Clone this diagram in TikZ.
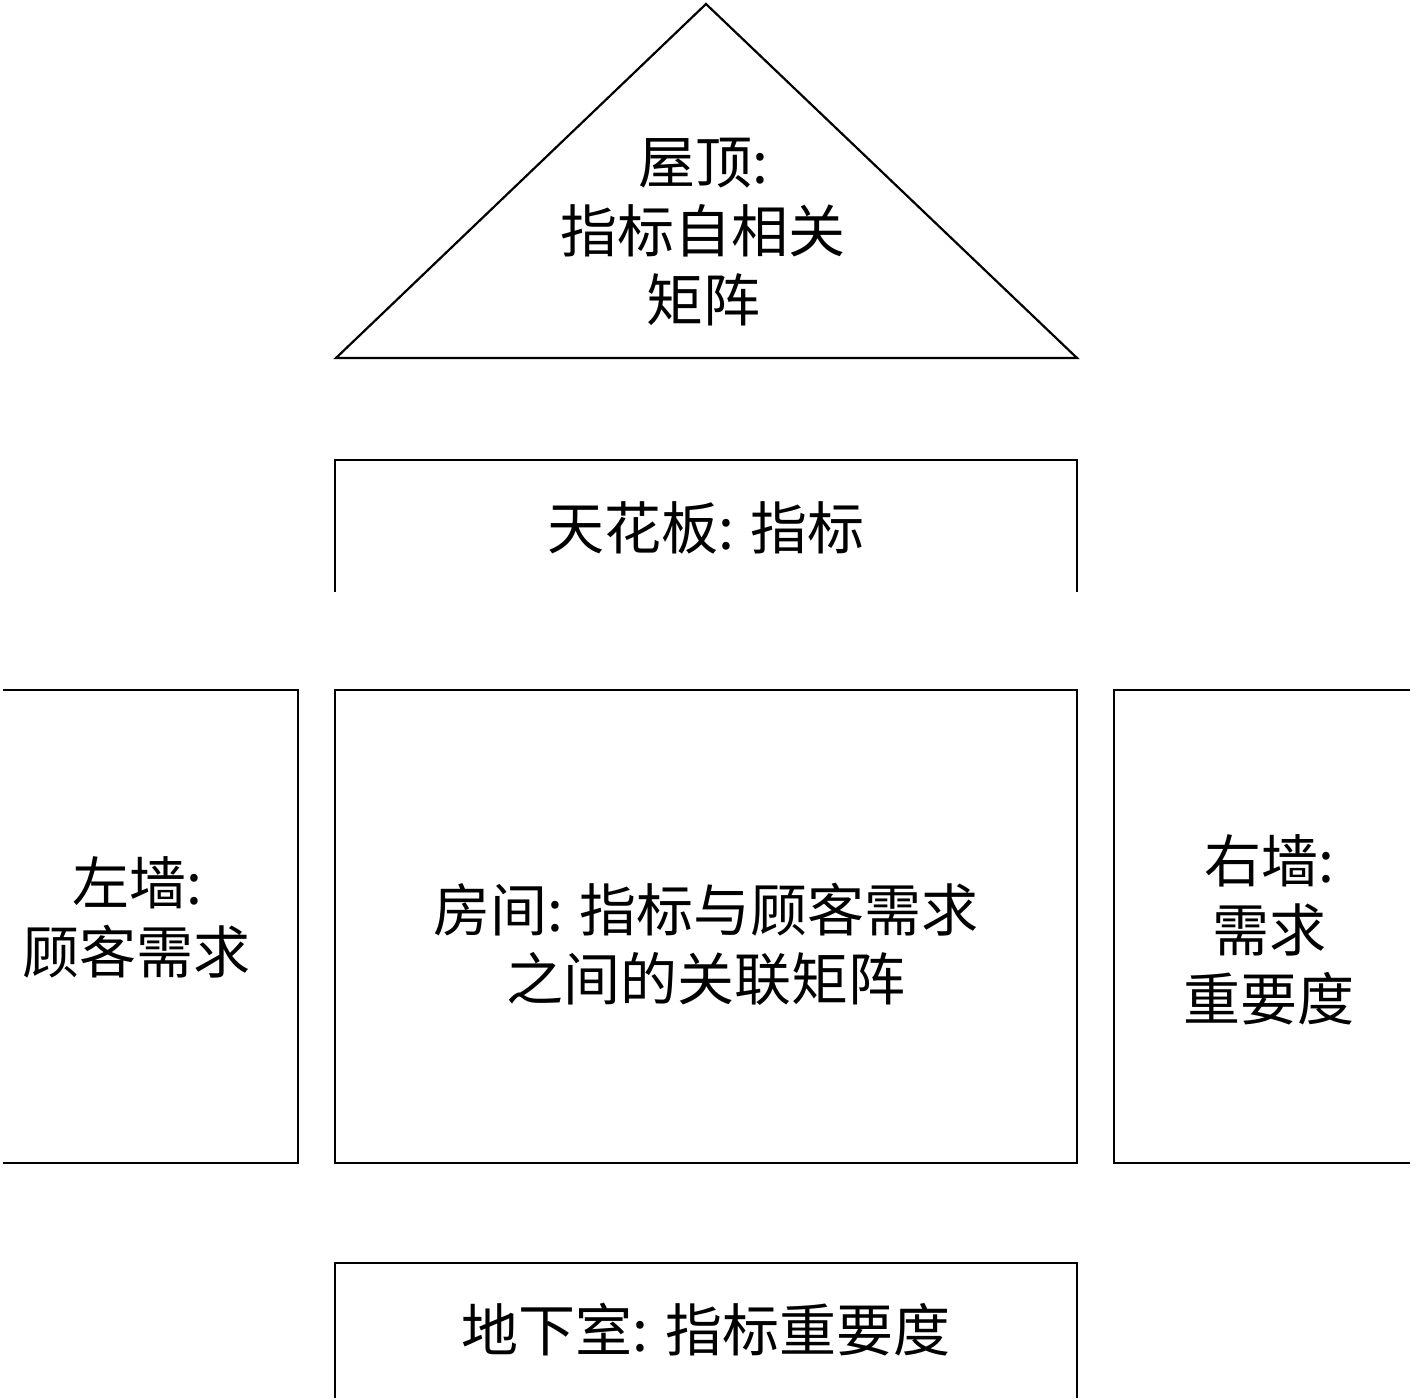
\documentclass[tikz,border=0pt]{standalone}
\usepackage{fontspec}
\setmainfont{Noto Sans CJK SC}
\begin{document}
\begin{tikzpicture}[x=1pt,y=-1pt,
  wall/.style={line width=2.2pt,line cap=rect},
  lbl/.style={align=center,font=\fontsize{57}{69}\selectfont,inner sep=0pt}]
\useasboundingbox (0,0) rectangle (1417,1400);
% coordinates
\coordinate (apex) at (706,4);
\coordinate (rl) at (336,358);
\coordinate (rr) at (1077,358);
% roof
\draw[wall,line join=miter] (rl) -- (apex) -- (rr) -- cycle;
\node[lbl] (roof) at (703,232) {屋顶:\\指标自相关\\矩阵};
% ceiling
\coordinate (c1) at (335,592); \coordinate (c2) at (335,460);
\coordinate (c3) at (1077,460); \coordinate (c4) at (1077,592);
\draw[wall,line cap=butt] (c1) -- (c2) -- (c3) -- (c4);
\node[lbl] (ceil) at (706,528) {天花板: 指标};
% left wall
\coordinate (l1) at (3,690); \coordinate (l2) at (298,690);
\coordinate (l3) at (298,1163); \coordinate (l4) at (3,1163);
\draw[wall,line cap=butt] (l1) -- (l2) -- (l3) -- (l4);
\node[lbl] (lw) at (137,917) {左墙:\\顾客需求};
% room
\draw[wall] (335,690) rectangle (1077,1163);
\node[lbl] (room) at (706,944) {房间: 指标与顾客需求\\之间的关联矩阵};
% right wall
\coordinate (r1) at (1410,690); \coordinate (r2) at (1114,690);
\coordinate (r3) at (1114,1163); \coordinate (r4) at (1410,1163);
\draw[wall,line cap=butt] (r1) -- (r2) -- (r3) -- (r4);
\node[lbl] (rw) at (1269,930) {右墙:\\需求\\重要度};
% basement
\coordinate (b1) at (335,1398); \coordinate (b2) at (335,1263);
\coordinate (b3) at (1077,1263); \coordinate (b4) at (1077,1398);
\draw[wall,line cap=butt] (b1) -- (b2) -- (b3) -- (b4);
\node[lbl] (base) at (706,1330) {地下室: 指标重要度};
\end{tikzpicture}
\end{document}
